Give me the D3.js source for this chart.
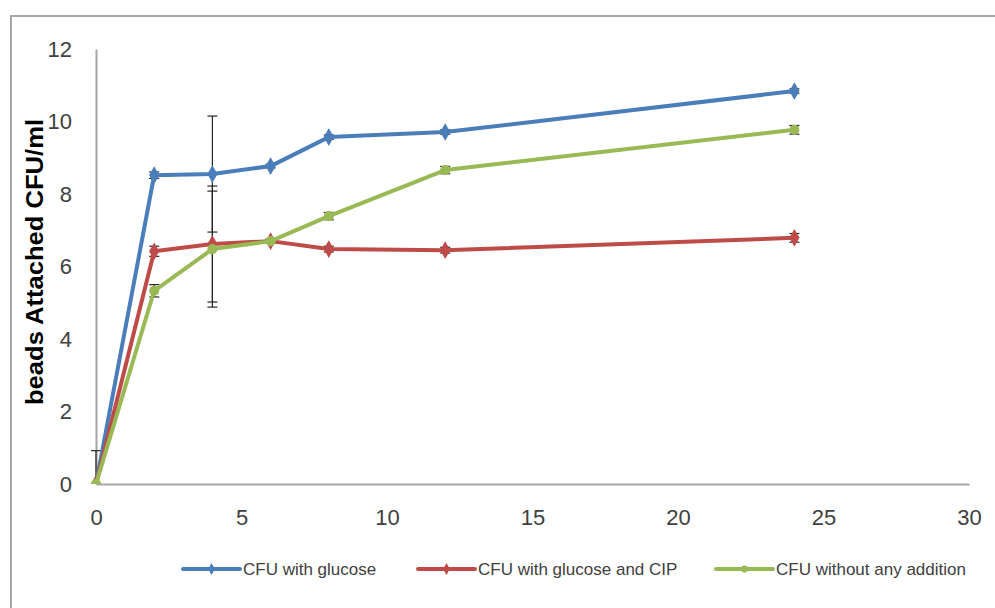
<!DOCTYPE html>
<html><head><meta charset="utf-8">
<script src="https://cdn.jsdelivr.net/npm/d3@7"></script>
<style>
html,body{margin:0;padding:0;background:#fff;}
svg{display:block;}
text{font-family:"Liberation Sans",Arial,sans-serif;}
</style></head>
<body>
<svg id="chart" width="995" height="608"></svg>
<script>
const hours = [0, 2, 4, 6, 8, 12, 24];
const seriesNames = ["CFU with glucose", "CFU with glucose and CIP", "CFU without any addition"];
const glucose = [0, 8.52, 8.55, 8.77, 9.57, 9.71, 10.84];
const glucoseCIP = [0, 6.42, 6.62, 6.7, 6.48, 6.45, 6.79];
const noAddition = [0, 5.33, 6.48, 6.7, 7.39, 8.66, 9.77];
const glucoseErr = [0.92, 0.09, 1.6, 0.05, 0.06, 0.06, 0.06];
const glucoseCIPErr = [0, 0.14, 1.6, 0.05, 0.08, 0.08, 0.12];
const noAdditionErr = [0, 0.17, 1.6, 0.05, 0.1, 0.1, 0.12];
const xTicks = [0, 5, 10, 15, 20, 25, 30];
const yTicks = [0, 2, 4, 6, 8, 10, 12];
const colors = ["#4A7EBB", "#BE4B48", "#98B954"];
const markers = [d3.symbolDiamond, d3.symbolDiamond, d3.symbolCircle];

const series = [
  {name: seriesNames[0], values: glucose, err: glucoseErr},
  {name: seriesNames[1], values: glucoseCIP, err: glucoseCIPErr},
  {name: seriesNames[2], values: noAddition, err: noAdditionErr}
];

const svg = d3.select("#chart");
const x = d3.scaleLinear().domain([0, 30]).range([96, 969]);
const y = d3.scaleLinear().domain([0, 12]).range([484, 49]);

// outer border
svg.append("path").attr("d", "M11,610 L11,16 L1000,16")
  .attr("fill", "none").attr("stroke", "#a6a6a6").attr("stroke-width", 2);

svg.append("defs").append("clipPath").attr("id", "plot")
  .append("rect").attr("x", 80).attr("y", 40).attr("width", 900).attr("height", 444);

// axes
const xAxis = svg.append("g").attr("transform", "translate(0,484)")
  .call(d3.axisBottom(x).tickValues(xTicks).tickSize(0).tickPadding(25));
const yAxis = svg.append("g").attr("transform", "translate(96,0)")
  .call(d3.axisLeft(y).tickValues(yTicks).tickSize(0).tickPadding(24));
[xAxis, yAxis].forEach(g => {
  g.select(".domain").attr("stroke", "#a6a6a6").attr("stroke-width", 2);
  g.selectAll("text").attr("font-size", 22).attr("fill", "#404040")
    .attr("font-family", "'Liberation Sans',Arial,sans-serif");
});

svg.append("text").attr("transform", "translate(43,262) rotate(-90)")
  .attr("text-anchor", "middle").attr("font-size", 24).attr("font-weight", "bold")
  .attr("fill", "#000").attr("textLength", 286).attr("lengthAdjust", "spacingAndGlyphs")
  .text("beads Attached CFU/ml");

const line = d3.line().x((d, i) => x(hours[i])).y(d => y(d));
const plot = svg.append("g").attr("clip-path", "url(#plot)");
const errLayer = plot.append("g");
const lineLayer = plot.append("g");

series.forEach((s, k) => {
  lineLayer.append("path").datum(s.values).attr("d", line)
    .attr("fill", "none").attr("stroke", colors[k]).attr("stroke-width", 4)
    .attr("stroke-linejoin", "round");
  lineLayer.selectAll(null).data(s.values).enter().append("path")
    .attr("d", d3.symbol().type(markers[k]).size(k === 2 ? 80 : 90))
    .attr("transform", (d, i) => `translate(${x(hours[i])},${y(d)})`)
    .attr("fill", colors[k]);
});

// error bars
series.forEach((s, k) => {
  s.values.forEach((v, i) => {
    const e = s.err[i];
    if (!e) return;
    const cx = x(hours[i]);
    const g = errLayer.append("g").attr("stroke", "#262626").attr("stroke-width", 1.2);
    g.append("line").attr("x1", cx).attr("x2", cx).attr("y1", y(v - e)).attr("y2", y(v + e));
    [v - e, v + e].forEach(t => {
      g.append("line").attr("x1", cx - 5).attr("x2", cx + 5).attr("y1", y(t)).attr("y2", y(t));
    });
  });
});

// legend
const legendX = [183, 418, 716];
series.forEach((s, k) => {
  const g = svg.append("g").attr("transform", `translate(${legendX[k]},569)`);
  g.append("line").attr("x1", 0).attr("x2", 57).attr("stroke", colors[k]).attr("stroke-width", 4)
    .attr("stroke-linecap", "round");
  g.append("path").attr("d", d3.symbol().type(markers[k]).size(40)).attr("transform", "translate(28.5,0)")
    .attr("fill", colors[k]);
  g.append("text").attr("x", 60).attr("dy", "0.35em").attr("font-size", 17).attr("fill", "#404040")
    .text(s.name);
});
</script>
</body></html>
